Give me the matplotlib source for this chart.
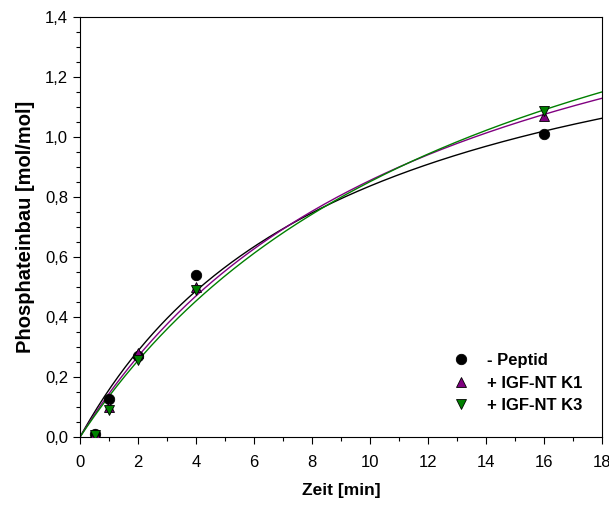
import numpy as np
import matplotlib
matplotlib.use("Agg")
from matplotlib import pyplot as plt
from matplotlib.ticker import MultipleLocator, FuncFormatter

plt.rcParams['font.family'] = ['Liberation Sans', 'DejaVu Sans']

# measured time points [min]
zeit = [0.5, 1, 2, 4, 16]
# phosphate incorporation [mol/mol]
peptid_minus = [0.01, 0.125, 0.27, 0.54, 1.01]
igf_nt_k1 = [0.01, 0.10, 0.28, 0.50, 1.07]
igf_nt_k3 = [0.005, 0.09, 0.255, 0.49, 1.085]

labels = ['- Peptid', '+ IGF-NT K1', '+ IGF-NT K3']
colors = ['black', '#800080', '#008000']
markers = ['o', '^', 'v']


def fit_hyperbola(t, y):
    # y = a*t/(b+t), grid search on b, least squares for a
    t = np.asarray(t, float)
    y = np.asarray(y, float)
    best = None
    for b in np.linspace(0.5, 40, 8000):
        g = t / (b + t)
        a = (g @ y) / (g @ g)
        err = ((a * g - y) ** 2).sum()
        if best is None or err < best[0]:
            best = (err, a, b)
    return best[1], best[2]


fig = plt.figure(figsize=(6.09, 5.12), dpi=100)
ax = fig.add_axes([0.1314, 0.1465, 0.8571, 0.8203])

tt = np.linspace(0, 18, 300)
for ys, c in zip([peptid_minus, igf_nt_k1, igf_nt_k3], colors):
    a, b = fit_hyperbola(zeit, ys)
    ax.plot(tt, a * tt / (b + tt), color=c, lw=1.0, zorder=2)

for ys, c, m, l in zip([peptid_minus, igf_nt_k1, igf_nt_k3], colors, markers, labels):
    ax.plot(zeit, ys, ls='none', marker=m, color=c, mec='black', mew=0.6,
            ms=7.5, label=l, zorder=3)

ax.set_xlim(0, 18)
ax.set_ylim(0, 1.4)
ax.xaxis.set_major_locator(MultipleLocator(2))
ax.xaxis.set_minor_locator(MultipleLocator(1))
ax.yaxis.set_major_locator(MultipleLocator(0.2))
ax.yaxis.set_minor_locator(MultipleLocator(0.05))
ax.yaxis.set_major_formatter(FuncFormatter(lambda v, p: ('%.1f' % v).replace('.', ',')))
ax.tick_params(which='both', direction='out', top=False, right=False, labelsize=12)
ax.tick_params(which='major', length=5, width=0.8)
ax.tick_params(which='minor', length=3, width=0.8)
ax.tick_params(axis='x', which='major', pad=8)

ax.set_xlabel('Zeit [min]', fontsize=12.5, fontweight='bold', labelpad=9)
ax.set_ylabel('Phosphateinbau [mol/mol]', fontsize=14.5, fontweight='bold', labelpad=7)

ax.legend(loc='upper left', bbox_to_anchor=(0.669, 0.235), frameon=False,
          handletextpad=0.55, labelspacing=0.45,
          prop={'weight': 'bold', 'size': 12})

fig.savefig('out.png', dpi=100)
